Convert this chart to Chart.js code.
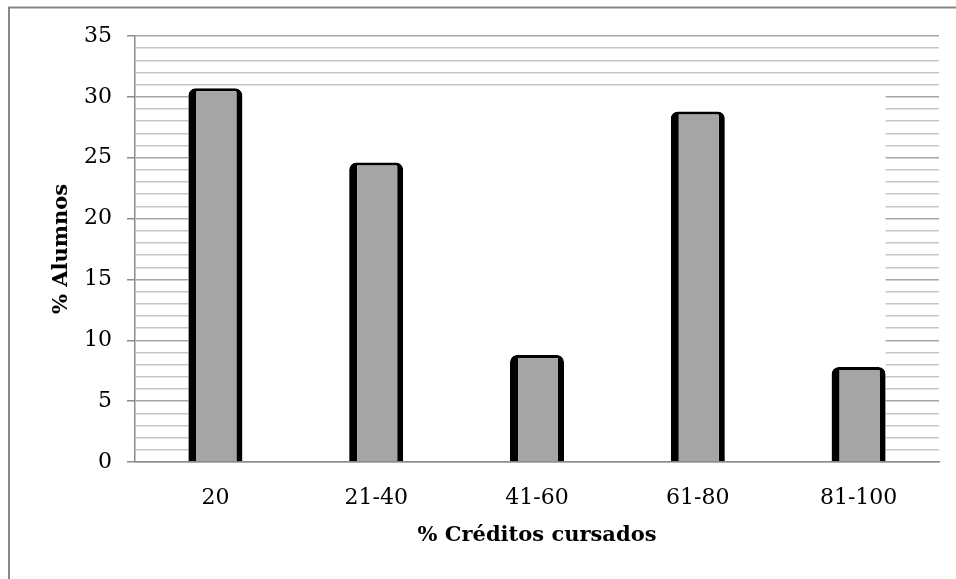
<!DOCTYPE html>
<html>
<head>
<meta charset="utf-8">
<script src="https://cdn.jsdelivr.net/npm/chart.js@4"></script>
<style>
  body { margin: 0; background: #fff; }
  #wrap { width: 956px; height: 579px; position: relative; }
</style>
</head>
<body>
<div id="wrap"><canvas id="chart"></canvas></div>
<script>
// categories on the x axis
const categories = ["20", "21-40", "41-60", "61-80", "81-100"];
// % of students per category
const alumnos = [30.7, 24.6, 8.8, 28.8, 7.8];
// labelled ticks on the y axis (minor lines every 1)
const yLabelTicks = [0, 5, 10, 15, 20, 25, 30, 35];

const serif = "'DejaVu Serif', serif";

//grey frame around the whole chart
const framePlugin = {
  id: "frame",
  beforeDraw: chart => {
    const ctx = chart.ctx;
    ctx.save();
    ctx.strokeStyle = "#878787";
    ctx.lineWidth = 2;
    ctx.strokeRect(9, 7.5, 1000, 1000);
    ctx.restore();
  }
};

//white block hiding the grid between first and last bar
const maskPlugin = {
  id: "mask",
  beforeDatasetsDraw: chart => {
    const meta = chart.getDatasetMeta(0);
    const first = meta.data[0];
    const last = meta.data[meta.data.length - 1];
    const y = chart.scales.y;
    const ctx = chart.ctx;
    const x0 = first.x - first.width / 2;
    const x1 = last.x + last.width / 2;
    const top = y.getPixelForValue(Math.max(...alumnos));
    const bottom = y.getPixelForValue(0) - 1;
    ctx.save();
    ctx.fillStyle = "#ffffff";
    ctx.fillRect(x0, top, x1 - x0, bottom - top);
    ctx.restore();
  }
};

new Chart(document.getElementById("chart"), {
  type: "bar",
  plugins: [framePlugin, maskPlugin],
  data: {
    labels: categories,
    datasets: [{
      data: alumnos,
      backgroundColor: "#a5a5a5",
      borderColor: "#000000",
      borderWidth: { left: 8, right: 6, top: 3, bottom: 0 },
      borderRadius: { topLeft: 7, topRight: 7, bottomLeft: 0, bottomRight: 0 },
      borderSkipped: false,
      categoryPercentage: 1,
      barPercentage: 0.336
    }]
  },
  options: {
    responsive: true,
    maintainAspectRatio: false,
    animation: false,
    layout: { padding: { left: 0, right: 17, top: 36, bottom: 0 } },
    plugins: {
      legend: { display: false },
      tooltip: { enabled: false }
    },
    scales: {
      x: {
        afterFit: s => { s.height = 117; },
        grid: { display: false, drawTicks: false },
        border: { display: true, color: "#8c8c8c", width: 1.5 },
        ticks: { color: "#000", font: { family: serif, size: 22 }, padding: 23 },
        title: {
          display: true,
          text: "% Créditos cursados",
          color: "#000",
          font: { family: serif, size: 21, weight: "bold" },
          padding: { top: 0, bottom: 31 }
        }
      },
      y: {
        min: 0,
        max: 35,
        afterFit: s => { s.width = 135; },
        border: { display: true, color: "#8c8c8c", width: 1.5 },
        grid: {
          lineWidth: 1.5,
          tickLength: 8,
          color: c => (yLabelTicks.includes(c.tick.value) ? "#a6a6a6" : "#c6c6c6"),
          tickColor: c => (yLabelTicks.includes(c.tick.value) ? "#8c8c8c" : "rgba(0,0,0,0)")
        },
        ticks: {
          stepSize: 1,
          autoSkip: false,
          color: "#000",
          padding: 15,
          font: { family: serif, size: 22 },
          callback: v => (yLabelTicks.includes(v) ? v : "")
        },
        title: {
          display: true,
          text: "% Alumnos",
          color: "#000",
          font: { family: serif, size: 21, weight: "bold" },
          padding: { top: 49, bottom: 0 }
        }
      }
    }
  }
});
</script>
</body>
</html>
